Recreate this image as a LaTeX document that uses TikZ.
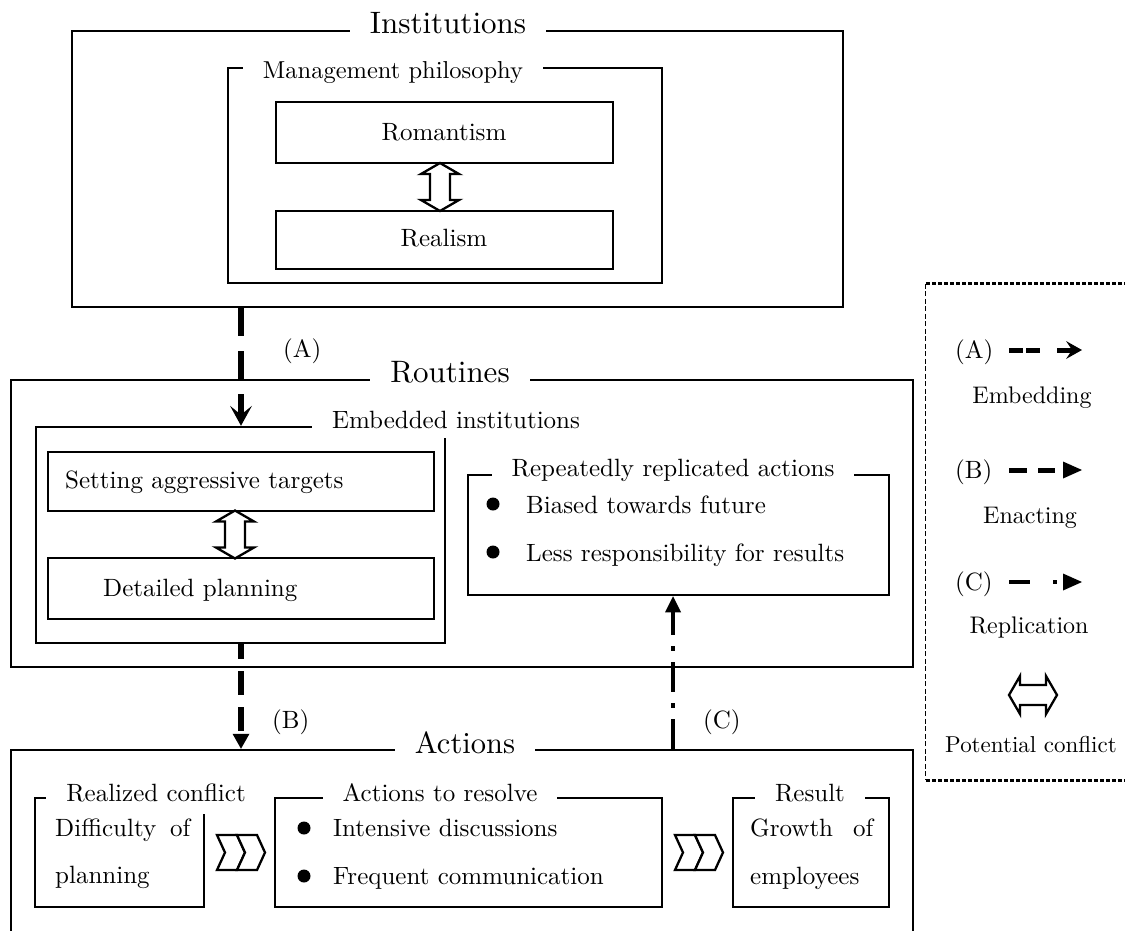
\documentclass[tikz,border=0pt]{standalone}
\usepackage{fontspec}
\setmainfont{lmroman10-regular.otf}
\usetikzlibrary{arrows.meta}
\newcommand\fsz[1]{\fontsize{#1}{#1}\selectfont}

\tikzset{
  box/.style={draw, line width=2.5pt, rectangle, inner sep=0pt},
  ghost/.style={rectangle, inner sep=0pt},
  title/.style={fill=white, inner xsep=20pt, inner ysep=10pt, anchor=base, font=\fsz{25}},
  bigtitle/.style={title, font=\fsz{31}},
  txt/.style={inner sep=0pt, anchor=base west, font=\fsz{25}},
  ctxt/.style={inner sep=0pt, anchor=base, font=\fsz{25}},
  embedarrow/.style={line width=6pt, dash pattern=on 28pt off 15pt,
    -{Stealth[length=20pt, width=22pt, inset=9pt, line width=0pt]}},
  enactarrow/.style={line width=6pt, dash pattern=on 24pt off 12pt, dash phase=9pt,
    -{Triangle[length=15pt, width=17pt, line width=0pt]}},
  replarrow/.style={line width=4pt, dash pattern=on 30pt off 11pt on 5pt off 11pt,
    -{Triangle[length=16pt, width=16pt, line width=0pt]}},
  dblarrow/.pic={
    \draw[line width=2.3pt, fill=white, line join=miter]
      (0,-24) -- (19,-13) -- (10,-13) -- (10,13) -- (19,13) -- (0,24)
      -- (-19,13) -- (-10,13) -- (-10,-13) -- (-19,-13) -- cycle;
  },
  chevrons/.pic={
    \draw[line width=2.3pt, fill=white, line join=miter]
      (0,0) -- (20,0) -- (28,17.5) -- (20,35) -- (0,35) -- (8,17.5) -- cycle;
    \draw[line width=2.3pt, fill=white, line join=miter]
      (20,0) -- (40,0) -- (48,17.5) -- (40,35) -- (20,35) -- (28,17.5) -- cycle;
  },
  legtop/.style={line width=3pt, dash pattern=on 4.5pt off 1.5pt},
  legside/.style={line width=1pt, dash pattern=on 5pt off 2.5pt}
}

\begin{document}
\begin{tikzpicture}[x=1pt, y=-1pt]
\clip (0,0) rectangle (1125,930);

% ---------- Institutions ----------
\node[box, minimum width=771pt, minimum height=276pt] (inst) at (457.5,169) {};
\node[box, minimum width=434pt, minimum height=215pt] (mgmt) at (445,175.5) {};
\node[box, minimum width=337pt, minimum height=61pt] (roman) at (444.5,132.5) {};
\node[box, minimum width=337pt, minimum height=58pt] (real) at (444.5,240) {};
\node[bigtitle] (instT) at (448,33) {Institutions};
\node[title, font=\fsz{24.5}] (mgmtT) at (393,78) {Management philosophy};
\node[ctxt] (romanT) at (444,140) {Romantism};
\node[ctxt] (realT) at (444,246) {Realism};
\pic at (440,187) {dblarrow};

% ---------- Routines ----------
\node[box, minimum width=902pt, minimum height=287pt] (rout) at (462,523.5) {};
\node[box, minimum width=409pt, minimum height=216pt] (embin) at (240.5,535) {};
\node[box, minimum width=386pt, minimum height=59pt] (setting) at (241,481.5) {};
\node[box, minimum width=386pt, minimum height=61pt] (detail) at (241,588.5) {};
\node[box, minimum width=421pt, minimum height=120pt] (repl) at (678.5,535) {};
\node[bigtitle] (routT) at (450,382) {Routines};
\node[title] (embinT) at (456,428) {Embedded institutions};
\node[title] (replT) at (673,476) {Repeatedly replicated actions};
\node[txt] (settingT) at (65,488) {Setting aggressive targets};
\node[txt] (detailT) at (103,596) {Detailed planning};
\pic at (235,534.5) {dblarrow};
\fill (493,504) circle[radius=6.5pt];
\fill (493,552) circle[radius=6.5pt];
\node[txt] (biasT) at (526,513) {Biased towards future};
\node[txt] (lessT) at (526,561) {Less responsibility for results};

% ---------- Actions ----------
\node[box, minimum width=902pt, minimum height=200pt] (act) at (462,850) {};
\node[box, minimum width=169pt, minimum height=109pt] (realc) at (119.5,852.5) {};
\node[box, minimum width=387pt, minimum height=109pt] (resolve) at (468.5,852.5) {};
\node[box, minimum width=156pt, minimum height=109pt] (result) at (811,852.5) {};
\node[bigtitle, font=\fsz{30.5}] (actT) at (465,753) {Actions};
\node[title, inner ysep=12pt] (realcT) at (156,801) {Realized conflict};
\node[title] (resolveT) at (440,801) {Actions to resolve};
\node[title] (resultT) at (810,801) {Result};
\node[txt] (diffT) at (55,836) {\makebox[135pt][s]{Difficulty of}};
\node[txt] (planT) at (55,883) {planning};
\fill (304,828) circle[radius=6.5pt];
\fill (304,876) circle[radius=6.5pt];
\node[txt] (intT) at (333,836) {Intensive discussions};
\node[txt] (freqT) at (333,884) {Frequent communication};
\node[txt] (growT) at (750,836) {\makebox[123pt][s]{Growth of}};
\node[txt] (emplT) at (750,884) {employees};
\pic at (217,835) {chevrons};
\pic at (675,835) {chevrons};

% ---------- connectors ----------
\coordinate (xa) at (241,0);
\coordinate (xc) at (673,0);
\draw[embedarrow] (inst.south -| xa) -- (embin.north -| xa);
\draw[enactarrow] (embin.south -| xa) -- (act.north -| xa);
\draw[replarrow] (act.north -| xc) -- (repl.south -| xc);
\node[txt] (labA) at (283,357) {(A)};
\node[txt] (labB) at (272,728) {(B)};
\node[txt] (labC) at (703,728) {(C)};

% ---------- legend ----------
\node[ghost, minimum width=214pt, minimum height=496pt] (legend) at (1033,532) {};
\draw[legtop] (legend.north west) -- (legend.north east);
\draw[legtop] (legend.south west) -- (legend.south east);
\draw[legside] (legend.north west) -- (legend.south west);

\node[txt] (legA) at (955,358) {(A)};
\coordinate (lgA1) at (1009,350);
\coordinate (lgA2) at (1082,350);
\draw[line width=5pt, dash pattern=on 14pt off 3pt on 14pt off 17pt on 30pt,
  -{Stealth[length=16pt, width=18pt, inset=6pt, line width=0pt]}] (lgA1) -- (lgA2);
\node[ctxt, font=\fsz{24}] (legAT) at (1032,403) {Embedding};

\node[txt] (legB) at (955,478) {(B)};
\coordinate (lgB1) at (1009,470);
\coordinate (lgB2) at (1082,470);
\draw[line width=5pt, dash pattern=on 18pt off 11pt on 17pt off 30pt,
  -{Triangle[length=19pt, width=17pt, line width=0pt]}] (lgB1) -- (lgB2);
\node[ctxt, font=\fsz{24}] (legBT) at (1030,523) {Enacting};

\node[txt] (legC) at (955,590) {(C)};
\coordinate (lgC1) at (1009,582);
\coordinate (lgC2) at (1082,582);
\draw[line width=4pt, dash pattern=on 21pt off 23pt on 4pt off 30pt,
  -{Triangle[length=19pt, width=17pt, line width=0pt]}] (lgC1) -- (lgC2);
\node[ctxt, font=\fsz{24}] (legCT) at (1029,633) {Replication};

\pic[rotate=90] at (1033,695) {dblarrow};
\node[ctxt, font=\fsz{23}] (legDT) at (1031,752) {Potential conflict};
\end{tikzpicture}
\end{document}
